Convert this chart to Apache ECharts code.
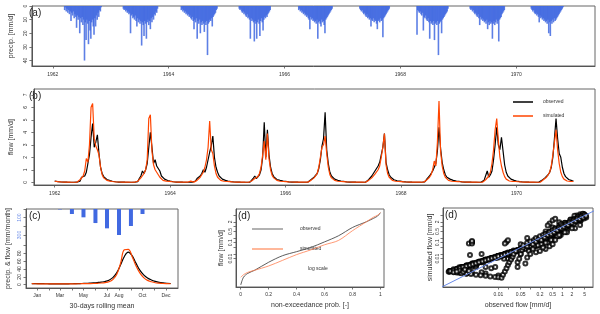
<!DOCTYPE html>
<html><head><meta charset="utf-8">
<script src="https://cdn.jsdelivr.net/npm/echarts@6/dist/echarts.min.js"></script>
<style>html,body{margin:0;padding:0;background:#fff}#c{width:600px;height:314px}</style>
</head><body><div id="c"></div>
<script>
// ---------- data ----------
const years = [1962,1963,1964,1965,1966,1967,1968,1969,1970];
const yearTicks = [1962,1964,1966,1968,1970];
// daily precipitation [mm/d], sampled every 5 days from day 70 to day 310 of each year
const precipStartDay = 70, precipStepDays = 5;
const precip1962 = [0,3,1,4,2,5,3,6,4,11,5,7,4,9,6,8,16,7,10,8,20,9,12,8,14,10,40,12,25,10,13,28,11,18,24,12,10,15,21,9,15,7,10,5,8,3,4,1,0];
const precip1963 = [0,0,2,3,2,4,3,5,4,6,5,20,7,6,9,8,10,7,11,15,9,12,10,13,11,29,12,14,22,11,13,24,12,10,14,11,17,9,12,8,10,6,7,4,5,2,0,0,0];
const precip1964 = [0,0,3,2,4,3,5,4,6,5,7,6,8,7,9,10,8,11,17,10,12,9,24,11,13,10,20,12,14,11,13,19,12,14,11,36,13,12,10,11,9,15,8,7,6,5,3,2,0];
const precip1965 = [0,0,2,3,2,4,5,4,6,5,7,8,6,9,8,10,24,9,11,10,12,26,11,13,24,12,10,13,22,11,9,12,18,10,8,9,7,8,6,5,4,3,0,0,0,0,0,0,0];
const precip1966 = [0,0,0,0,3,2,4,3,5,4,6,5,7,6,8,7,9,10,17,8,10,9,11,10,12,11,13,10,24,12,11,13,15,10,12,11,14,20,10,9,8,7,6,5,4,3,2,0,0];
const precip1967 = [0,0,0,0,0,0,0,0,2,3,4,3,5,6,5,7,8,6,9,8,10,9,15,10,11,9,12,10,11,13,17,11,10,12,9,11,10,23,9,8,7,6,5,4,3,2,0,0,0];
const precip1968 = [0,0,0,0,0,0,0,21,3,4,5,4,6,7,5,18,8,9,7,10,11,9,12,24,11,13,12,14,11,25,13,12,14,11,36,13,12,11,20,10,9,8,7,6,5,4,2,0,0];
const precip1969 = [0,2,3,2,4,3,5,6,5,7,8,6,9,14,8,10,9,11,10,12,11,13,10,17,12,14,11,13,12,24,13,11,14,12,10,13,11,26,10,9,8,6,5,4,3,0,0,0,0];
const precip1970 = [0,0,0,0,0,2,3,4,3,5,6,5,7,6,8,12,7,9,8,10,9,11,10,12,11,13,10,20,12,22,11,13,10,12,9,11,10,9,8,7,6,5,4,3,2,1,0,0,0];
// flow [mm/d], sampled every 10 days from 1 Jan of each year
const flowStepDays = 10;
const obs1962 = [0.1,0.07,0.05,0.03,0.02,0.013,0.008,0.005,0.003,0.002,0.0015,0.001,0.0006,0.001,0.004,0.02,0.08,0.4,0.3,0.5,0.8,1.5,2.2,3.6,4.7,2.8,3.2,3.8,2.3,1.2,0.7,0.45,0.3,0.22,0.17,0.13,0.1];
const sim1962 = [0.08,0.06,0.045,0.033,0.024,0.017,0.012,0.009,0.006,0.004,0.003,0.0022,0.0016,0.0012,0.003,0.01,0.2,0.3,0.5,0.9,1.9,1.6,3.0,6.0,6.3,3.5,2.9,2.6,2.2,1.2,0.6,0.35,0.2,0.15,0.11,0.09,0.07];
const obs1963 = [0.08,0.06,0.04,0.025,0.016,0.01,0.006,0.004,0.0025,0.0015,0.001,0.0007,0.0005,0.0004,0.002,0.01,0.05,0.3,0.5,0.9,0.7,1.0,1.5,2.8,4.0,2.8,1.5,1.8,1.3,1.4,0.9,0.5,0.35,0.25,0.18,0.14,0.11];
const sim1963 = [0.06,0.045,0.034,0.026,0.02,0.015,0.011,0.008,0.006,0.0045,0.0033,0.0025,0.0019,0.0015,0.003,0.012,0.08,0.2,0.35,0.5,0.7,1.0,1.8,5.1,5.4,2.5,1.4,1.0,0.8,0.6,0.4,0.25,0.15,0.11,0.09,0.075,0.065];
const obs1964 = [0.09,0.06,0.04,0.026,0.017,0.011,0.007,0.0045,0.003,0.002,0.0013,0.0009,0.0015,0.0012,0.003,0.015,0.1,0.3,0.4,0.5,0.7,1.0,0.8,1.2,1.8,2.4,2.9,3.7,2.0,1.2,0.8,0.5,0.35,0.25,0.2,0.15,0.12];
const sim1964 = [0.06,0.045,0.035,0.027,0.021,0.016,0.012,0.009,0.007,0.005,0.004,0.003,0.11,0.09,0.02,0.01,0.05,0.15,0.25,0.4,0.6,0.8,1.2,1.8,2.8,4.9,2.6,2.3,1.3,0.7,0.4,0.25,0.15,0.1,0.08,0.07,0.06];
const obs1965 = [0.1,0.07,0.045,0.03,0.019,0.012,0.008,0.005,0.0032,0.002,0.0013,0.0008,0.0005,0.0003,0.002,0.15,0.3,0.5,0.3,0.4,0.6,1.0,2.0,4.8,2.0,4.2,2.2,1.2,0.7,0.45,0.3,0.22,0.18,0.15,0.12,0.1,0.09];
const sim1965 = [0.06,0.046,0.036,0.028,0.022,0.017,0.013,0.01,0.0075,0.0055,0.004,0.003,0.0022,0.0016,0.004,0.1,0.2,0.3,0.35,0.45,0.7,1.2,2.2,3.3,1.8,3.9,1.9,1.0,0.55,0.35,0.22,0.15,0.1,0.08,0.07,0.06,0.055];
const obs1966 = [0.08,0.055,0.037,0.025,0.016,0.01,0.0065,0.004,0.0025,0.0016,0.001,0.0007,0.0005,0.0008,0.006,0.05,0.2,0.3,0.4,0.5,0.7,1.1,1.8,2.9,3.5,5.6,2.6,1.5,0.8,0.5,0.35,0.25,0.2,0.15,0.12,0.1,0.09];
const sim1966 = [0.05,0.04,0.031,0.024,0.019,0.015,0.011,0.0085,0.0065,0.005,0.0038,0.0029,0.0022,0.0017,0.0025,0.02,0.15,0.25,0.35,0.5,0.7,1.2,2.0,2.8,3.0,3.7,2.3,1.2,0.6,0.35,0.2,0.15,0.1,0.08,0.07,0.06,0.055];
const obs1967 = [0.08,0.055,0.036,0.024,0.015,0.0095,0.006,0.0038,0.0024,0.0015,0.001,0.0006,0.0004,0.0003,0.0006,0.004,0.2,0.35,0.5,0.7,0.9,1.1,1.3,1.6,2.2,2.8,3.9,1.6,1.0,0.6,0.4,0.3,0.2,0.15,0.12,0.1,0.09];
const sim1967 = [0.05,0.04,0.031,0.024,0.019,0.015,0.011,0.0085,0.0065,0.005,0.0038,0.0029,0.0022,0.0017,0.0013,0.0012,0.15,0.25,0.35,0.5,0.65,0.8,1.0,1.3,2.0,2.8,3.9,1.4,0.7,0.4,0.25,0.15,0.1,0.08,0.07,0.06,0.055];
const obs1968 = [0.08,0.055,0.037,0.025,0.016,0.01,0.0065,0.004,0.0026,0.0017,0.0011,0.0007,0.0005,0.0009,0.003,0.025,0.2,0.35,0.5,0.7,0.9,1.2,1.5,2.5,4.4,2.7,1.6,1.0,0.6,0.4,0.3,0.25,0.2,0.15,0.12,0.1,0.09];
const sim1968 = [0.05,0.04,0.031,0.024,0.019,0.015,0.011,0.0085,0.0065,0.005,0.0038,0.0029,0.0022,0.0017,0.0014,0.011,0.15,0.25,0.4,0.6,1.0,1.7,1.3,3.2,6.5,2.5,1.3,0.7,0.4,0.25,0.15,0.1,0.08,0.07,0.06,0.06,0.05];
const obs1969 = [0.08,0.055,0.037,0.025,0.016,0.01,0.0065,0.004,0.0026,0.0017,0.0011,0.0007,0.0005,0.0003,0.0015,0.01,0.15,0.3,0.9,0.4,0.6,0.9,1.8,3.0,4.4,3.0,2.6,3.6,2.5,1.4,0.8,0.5,0.35,0.25,0.2,0.15,0.12];
const sim1969 = [0.05,0.04,0.031,0.024,0.019,0.015,0.011,0.0085,0.0065,0.005,0.0038,0.0029,0.0022,0.0017,0.0013,0.0009,0.1,0.2,0.3,0.5,0.8,1.5,2.6,4.2,5.1,3.4,2.0,1.3,0.8,0.45,0.25,0.15,0.1,0.08,0.07,0.06,0.06];
const obs1970 = [0.1,0.07,0.047,0.031,0.02,0.013,0.0085,0.0055,0.0035,0.0022,0.0014,0.0009,0.0006,0.0004,0.001,0.008,0.15,0.25,0.35,0.5,0.6,0.8,1.2,2.0,3.5,5.1,3.5,2.3,2.0,1.2,0.7,0.45,0.3,0.22,0.17,0.13,0.1];
const sim1970 = [0.05,0.04,0.031,0.024,0.019,0.015,0.011,0.0085,0.0065,0.005,0.0038,0.0029,0.0022,0.0017,0.0013,0.003,0.1,0.2,0.3,0.4,0.55,0.8,1.3,2.2,3.2,4.2,2.6,1.5,0.8,0.45,0.25,0.15,0.1,0.08,0.07,0.06,0.06];
// additional observed/simulated pairs [mm/d] read from the dense scatter cloud
const scatterObsExtra = [0.00028,0.0003,0.00032,0.0004,0.0005,0.00063,0.00079,0.001,0.0013,0.0016,0.002,0.0025,0.0032,0.004,0.005,0.0063,0.0079,0.01,0.013,0.016,0.02,0.025,0.032,
  0.0005,0.0007,0.001,0.0014,0.002,0.0028,0.004,0.0056,0.0079,0.01,0.0126,
  0.0004,0.0006,0.0008,0.0005,0.0009,0.0012,
  0.014,0.016,0.018,0.02,0.022,0.025,0.028,0.03,0.035,0.04,0.04,0.045,0.05,0.055,0.06,0.07,0.08,0.09,0.1,0.11,
  0.06,0.08,0.08,0.1,0.12,0.13,0.15,0.15,0.18,0.2,0.22,0.25,0.28,0.3,0.35,0.4,0.45,0.5,0.55,0.6,0.7,0.8,0.9,1.0,1.1,1.3,1.5,1.7,2.0,2.3,2.6,3.0,3.5,4.0,4.5,5.0,5.5,
  0.1,0.15,0.2,0.3,0.4,0.5,0.12,0.25,0.6,0.8,
  0.0015,0.0015,0.0015,0.0013,0.018,0.02,0.016,0.4,0.5,0.6,0.35];
const scatterSimExtra = [0.0015,0.0016,0.0017,0.0019,0.0022,0.0026,0.003,0.0034,0.0039,0.0045,0.0051,0.0059,0.0068,0.0079,0.0091,0.0105,0.012,0.014,0.016,0.018,0.021,0.024,0.028,
  0.00135,0.00125,0.00115,0.0011,0.001,0.00092,0.00085,0.00078,0.00072,0.0007,0.00065,
  0.0014,0.0018,0.0015,0.0016,0.0021,0.0017,
  0.001,0.0016,0.0025,0.004,0.006,0.009,0.013,0.02,0.03,0.003,0.006,0.01,0.02,0.035,0.05,0.005,0.012,0.03,0.06,0.09,
  0.07,0.06,0.1,0.12,0.08,0.15,0.12,0.2,0.17,0.25,0.15,0.3,0.22,0.35,0.3,0.45,0.35,0.6,0.45,0.7,0.6,0.9,0.8,1.2,1.0,1.4,1.3,1.9,1.8,2.5,2.3,3.3,3.0,4.4,3.8,5.5,4.8,
  0.02,0.025,0.03,0.04,0.06,0.08,0.04,0.05,0.15,0.3,
  0.11,0.09,0.13,0.017,0.11,0.14,0.09,1.6,2.5,3.2,1.2];
// (c) monthly precipitation [mm/month] and 30-day rolling mean flow [mm/month]
const monthNames = ['Jan','Feb','Mar','Apr','May','Jun','Jul','Aug','Sep','Oct','Nov','Dec'];
const monthMidDay = [15,46,74,105,135,166,196,227,258,288,319,349];
const monthLabelIdx = [0,2,4,6,7,9,11];
const monthPrecip = [0,0,5,58,96,162,223,300,196,58,0,0];
const climStepDays = 10;
const climObs = [3,2.8,2.6,2.5,2.4,2.3,2.2,2.2,2.2,2.3,2.4,2.6,2.8,3.1,3.5,4.0,4.6,5.5,6.6,8.2,11.5,18,30,50,72,83,74,55,37,25,17,12,8.5,6,4.5,3.6,3.1];
const climSim = [2.5,2.4,2.3,2.2,2.2,2.1,2.1,2.1,2.1,2.1,2.2,2.3,2.4,2.5,2.6,2.8,3.1,3.6,4.3,5.5,7.5,13,26,54,89,90,72,48,30,18,11,7.5,5,3.8,3,2.6,2.4];
const flowTicksC = [0,20,40,60,80,100], flowLabelsC = [0,20,40,60,80];
const precipTicksC = [0,100,200,300], precipLabelsC = [100,300];
// (d) flow duration curve [mm/d]
const fdcProb = [0,0.02,0.05,0.1,0.2,0.3,0.4,0.5,0.6,0.7,0.8,0.9,0.95,0.98,1.0];
const fdcObs = [0.00023,0.0007,0.0012,0.0019,0.006,0.0155,0.0275,0.05,0.112,0.27,0.89,2.04,3.3,4.6,7.5];
const fdcSim = [0.00069,0.001,0.0014,0.0019,0.0035,0.0079,0.018,0.035,0.074,0.138,0.56,2.04,3.9,5.2,7.5];
const probTicks = [0,0.2,0.4,0.6,0.8,1];
const logTicks = [5,2,1,0.5,0.2,0.1,0.05,0.02,0.01];
const logLabelsY = [2,0.5,0.1,0.01];
const logTicksX = [0.01,0.02,0.05,0.1,0.2,0.5,1,2,5];
const logLabelsX = [0.01,0.05,0.2,0.5,1,2,5];
const oneToOne = [0.0001,10];

// ---------- build ----------
const precipAll = [precip1962,precip1963,precip1964,precip1965,precip1966,precip1967,precip1968,precip1969,precip1970];
const obsAll = [obs1962,obs1963,obs1964,obs1965,obs1966,obs1967,obs1968,obs1969,obs1970];
const simAll = [sim1962,sim1963,sim1964,sim1965,sim1966,sim1967,sim1968,sim1969,sim1970];
const lg = Math.log10;
const precipData = [], obsData = [], simData = [], scatterData = [];
years.forEach((y, yi) => {
  precipAll[yi].forEach((v, k) => { if (v > 0) precipData.push([y + (precipStartDay + precipStepDays * k) / 365, v]); });
  obsAll[yi].forEach((v, k) => {
    const t = y + (flowStepDays * k) / 365;
    obsData.push([t, v]);
    simData.push([t, simAll[yi][k]]);
    scatterData.push([lg(v), lg(simAll[yi][k])]);
  });
});
scatterObsExtra.forEach((v, i) => scatterData.push([lg(v), lg(scatterSimExtra[i])]));
const FONT = 'Liberation Sans';
const fmtLog = v => String(parseFloat(Math.pow(10, v).toPrecision(2)));

function mkAxis(o) {
  return {
    type: 'value', gridIndex: o.grid, min: o.min, max: o.max, inverse: !!o.inverse,
    position: o.position, splitLine: {show: false},
    axisLine: {show: o.line !== false, onZero: false, lineStyle: {color: '#555', width: 1}},
    axisTick: {show: true, length: 2.5, customValues: o.ticks, lineStyle: {color: '#555', width: 0.8}},
    axisLabel: {fontSize: 5, fontFamily: FONT, color: o.labelColor || '#333', margin: o.margin || 4,
      rotate: o.rotate || 0, customValues: o.labels || o.ticks, formatter: o.fmt || (v => String(v))},
    name: o.name || '', nameLocation: 'middle', nameGap: o.gap || 14, nameRotate: o.nameRotate || 0,
    nameTextStyle: {fontSize: 7, fontFamily: FONT, color: '#333'}
  };
}
const gridStyle = {show: true, borderColor: '#666', borderWidth: 1, backgroundColor: 'transparent', containLabel: false};
const option = {
  animation: false,
  textStyle: {fontFamily: FONT},
  grid: [
    Object.assign({left: 27, top: 6, width: 568, height: 60}, gridStyle),
    Object.assign({left: 27, top: 89, width: 568, height: 96}, gridStyle),
    Object.assign({left: 26, top: 209, width: 152, height: 79}, gridStyle),
    Object.assign({left: 236, top: 209, width: 148, height: 78}, gridStyle),
    Object.assign({left: 443, top: 208, width: 150, height: 79}, gridStyle)
  ],
  xAxis: [
    mkAxis({grid: 0, min: 1961.64, max: 1971.36, position: 'bottom', ticks: yearTicks, margin: 6, fmt: v => String(Math.round(v))}),
    mkAxis({grid: 1, min: 1961.64, max: 1971.36, position: 'bottom', ticks: yearTicks, margin: 6, fmt: v => String(Math.round(v))}),
    mkAxis({grid: 2, min: -14, max: 380, position: 'bottom', ticks: monthMidDay, labels: monthLabelIdx.map(i => monthMidDay[i]),
      margin: 5, fmt: v => monthNames[monthMidDay.indexOf(Math.round(v))] || '', name: '30-days rolling mean', gap: 15}),
    mkAxis({grid: 3, min: -0.034, max: 1.026, position: 'bottom', ticks: probTicks, margin: 5,
      fmt: v => String(parseFloat(v.toFixed(1))), name: 'non-exceedance prob. [-]', gap: 15}),
    mkAxis({grid: 4, min: -3.73, max: 0.96, position: 'bottom', ticks: logTicksX.map(lg), labels: logLabelsX.map(lg),
      margin: 5, fmt: fmtLog, name: 'observed flow [mm/d]', gap: 15})
  ],
  yAxis: [
    mkAxis({grid: 0, min: 0, max: 44, inverse: true, position: 'left', ticks: [0,10,20,30,40], rotate: 90, margin: 4,
      name: 'precip. [mm/d]', gap: 14, nameRotate: 90}),
    mkAxis({grid: 1, min: -0.22, max: 7.46, position: 'left', ticks: [0,1,2,3,4,5,6,7], rotate: 90, margin: 6,
      name: 'flow [mm/d]', gap: 14, nameRotate: 90}),
    mkAxis({grid: 2, min: -8.4, max: 192.9, position: 'left', ticks: flowTicksC, labels: flowLabelsC, rotate: 90, margin: 4,
      name: 'precip. & flow [mm/month]', gap: 14, nameRotate: 90}),
    mkAxis({grid: 2, min: 0, max: 911, inverse: true, position: 'left', line: false, ticks: precipTicksC, labels: precipLabelsC,
      rotate: 90, margin: 4, labelColor: '#6f8fe8'}),
    mkAxis({grid: 3, min: -3.77, max: 1.106, position: 'left', ticks: logTicks.map(lg), labels: logLabelsY.map(lg),
      rotate: 90, margin: 3, fmt: fmtLog, name: 'flow [mm/d]', gap: 11, nameRotate: 90}),
    mkAxis({grid: 4, min: -3.77, max: 1.17, position: 'left', ticks: logTicks.map(lg), labels: logLabelsY.map(lg),
      rotate: 90, margin: 3, fmt: fmtLog, name: 'simulated flow [mm/d]', gap: 9, nameRotate: 90})
  ],
  series: [
    {type: 'bar', xAxisIndex: 0, yAxisIndex: 0, data: precipData, barWidth: 1.6,
      itemStyle: {color: 'rgba(65,105,225,0.85)'}, silent: true},
    {type: 'line', xAxisIndex: 1, yAxisIndex: 1, data: obsData, showSymbol: false,
      lineStyle: {color: '#000', width: 1.2}},
    {type: 'line', xAxisIndex: 1, yAxisIndex: 1, data: simData, showSymbol: false,
      lineStyle: {color: '#ff4500', width: 1.2}},
    {type: 'bar', xAxisIndex: 2, yAxisIndex: 3, data: monthMidDay.map((d, i) => [d, monthPrecip[i]]), barWidth: 4,
      itemStyle: {color: '#4169e1'}},
    {type: 'line', xAxisIndex: 2, yAxisIndex: 2, data: climObs.map((v, i) => [1 + climStepDays * i, v]), showSymbol: false, smooth: 0.4,
      lineStyle: {color: '#000', width: 1.2}},
    {type: 'line', xAxisIndex: 2, yAxisIndex: 2, data: climSim.map((v, i) => [1 + climStepDays * i, v]), showSymbol: false, smooth: 0.4,
      lineStyle: {color: '#ff4500', width: 1.2}},
    {type: 'line', xAxisIndex: 3, yAxisIndex: 4, data: fdcProb.map((p, i) => [p, lg(fdcObs[i])]), showSymbol: false, smooth: 0.3,
      lineStyle: {color: '#333', width: 0.8}},
    {type: 'line', xAxisIndex: 3, yAxisIndex: 4, data: fdcProb.map((p, i) => [p, lg(fdcSim[i])]), showSymbol: false, smooth: 0.3,
      lineStyle: {color: '#ff7f50', width: 0.8}},
    {type: 'scatter', xAxisIndex: 4, yAxisIndex: 5, data: scatterData, symbol: 'emptyCircle', symbolSize: 4,
      itemStyle: {color: '#000', borderColor: '#000', borderWidth: 1.1}},
    {type: 'line', xAxisIndex: 4, yAxisIndex: 5, data: oneToOne.map(v => [lg(v), lg(v)]), showSymbol: false, clip: true,
      lineStyle: {color: '#6a8ae8', width: 1}}
  ],
  graphic: [
    {type: 'text', left: 29, top: 8, style: {text: '(a)', fontSize: 10, fill: '#222', fontFamily: FONT}},
    {type: 'text', left: 29, top: 91, style: {text: '(b)', fontSize: 10, fill: '#222', fontFamily: FONT}},
    {type: 'text', left: 29, top: 211, style: {text: '(c)', fontSize: 10, fill: '#222', fontFamily: FONT}},
    {type: 'text', left: 238, top: 211, style: {text: '(d)', fontSize: 10, fill: '#222', fontFamily: FONT}},
    {type: 'text', left: 445, top: 210, style: {text: '(d)', fontSize: 10, fill: '#222', fontFamily: FONT}},
    {type: 'line', shape: {x1: 513, y1: 102, x2: 533, y2: 102}, style: {stroke: '#000', lineWidth: 1.5}},
    {type: 'line', shape: {x1: 513, y1: 116, x2: 533, y2: 116}, style: {stroke: '#ff4500', lineWidth: 1.5}},
    {type: 'text', left: 543, top: 99.5, style: {text: 'observed', fontSize: 5, fill: '#333', fontFamily: FONT}},
    {type: 'text', left: 543, top: 113.5, style: {text: 'simulated', fontSize: 5, fill: '#333', fontFamily: FONT}},
    {type: 'line', shape: {x1: 252, y1: 229, x2: 283, y2: 229}, style: {stroke: '#999', lineWidth: 1.5}},
    {type: 'line', shape: {x1: 252, y1: 249, x2: 283, y2: 249}, style: {stroke: '#ffa07a', lineWidth: 1.5}},
    {type: 'text', left: 300, top: 226.5, style: {text: 'observed', fontSize: 5, fill: '#333', fontFamily: FONT}},
    {type: 'text', left: 300, top: 246.5, style: {text: 'simulated', fontSize: 5, fill: '#333', fontFamily: FONT}},
    {type: 'text', left: 308, top: 266, style: {text: 'log scale', fontSize: 5, fill: '#333', fontFamily: FONT}}
  ]
};
const chart = echarts.init(document.getElementById('c'), null, {renderer: 'canvas'});
chart.setOption(option);
</script>
</body></html>
